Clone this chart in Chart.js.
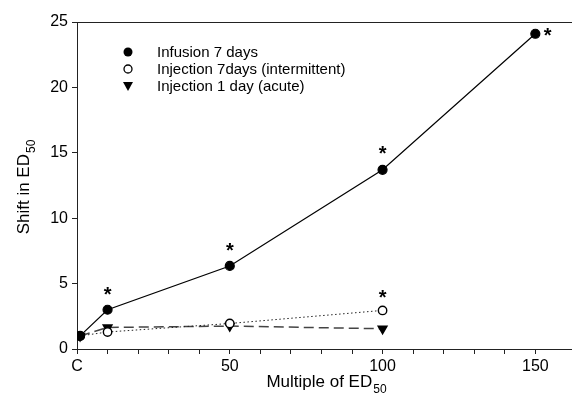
<!DOCTYPE html>
<html>
<head>
<meta charset="utf-8">
<script src="https://cdn.jsdelivr.net/npm/chart.js@4"></script>
<style>
html,body{margin:0;padding:0;background:#fff;}
canvas{display:block;}
</style>
</head>
<body>
<canvas id="c" width="572" height="407"></canvas>
<script>
// data
const doses = [1, 10, 50, 100, 150];
const infusion7 = [1, 3.0, 6.35, 13.7, 24.1];
const injection7 = [1, 1.3, 1.95, 2.95];
const injection1 = [1, 1.65, 1.75, 1.55];
const starX = [10, 50, 100, 154, 100];
const starY = [4.4, 7.8, 15.2, 24.2, 4.2];
const xTickLabels = {0:'C', 50:'50', 100:'100', 150:'150'};
const legendLabels = ['Infusion 7 days', 'Injection 7days (intermittent)', 'Injection 1 day (acute)'];

const FONT = '"Liberation Sans", Arial, sans-serif';

function pts(ys){ return ys.map((y,i)=>({x: doses[i], y: y})); }

// asterisks, top border, legend and axis titles with subscripts
const extras = {
  id: 'extras',
  afterDraw(chart){
    const ctx = chart.ctx, a = chart.chartArea;
    const xs = chart.scales.x, ys = chart.scales.y;
    ctx.save();
    // top frame line
    ctx.strokeStyle = '#222'; ctx.lineWidth = 1;
    ctx.beginPath(); ctx.moveTo(a.left, a.top + 0.5); ctx.lineTo(a.right, a.top + 0.5); ctx.stroke();

    // asterisks
    ctx.fillStyle = '#000';
    ctx.font = 'bold 20px ' + FONT;
    ctx.textAlign = 'center'; ctx.textBaseline = 'alphabetic';
    const m = ctx.measureText('*');
    const off = (m.actualBoundingBoxAscent - m.actualBoundingBoxDescent) / 2;
    starX.forEach((sx, i)=>{
      ctx.fillText('*', xs.getPixelForValue(sx), ys.getPixelForValue(starY[i]) + off);
    });

    // legend
    ctx.font = '15px ' + FONT;
    ctx.textAlign = 'left'; ctx.textBaseline = 'middle';
    const lx = 128, tx = 157, ly = [52, 69, 86];
    legendLabels.forEach((lab, i)=>{
      const y = ly[i];
      ctx.lineWidth = 1.3; ctx.strokeStyle = '#000'; ctx.fillStyle = '#000';
      if(i === 0){ ctx.beginPath(); ctx.arc(lx, y, 4.5, 0, Math.PI*2); ctx.fill(); }
      else if(i === 1){ ctx.beginPath(); ctx.arc(lx, y, 4, 0, Math.PI*2); ctx.fillStyle='#fff'; ctx.fill(); ctx.stroke(); ctx.fillStyle='#000'; }
      else { ctx.beginPath(); ctx.moveTo(lx-5, y-4); ctx.lineTo(lx+5, y-4); ctx.lineTo(lx, y+5); ctx.closePath(); ctx.fill(); }
      ctx.fillText(lab, tx, y + 1);
    });

    // x title
    ctx.textBaseline = 'alphabetic';
    const t1 = 'Multiple of ED';
    ctx.font = '12px ' + FONT;
    const wSub = ctx.measureText('50').width;
    ctx.font = '17px ' + FONT;
    const w1 = ctx.measureText(t1).width;
    let sx0 = 326 - (w1 + wSub) / 2;
    ctx.fillText(t1, sx0, 387);
    ctx.font = '12px ' + FONT;
    ctx.fillText('50', sx0 + w1 + 1, 393);

    // y title (rotated)
    ctx.translate(29, (a.top + a.bottom) / 2 + 2);
    ctx.rotate(-Math.PI / 2);
    ctx.font = '17px ' + FONT;
    const t2 = 'Shift in ED';
    const w2 = ctx.measureText(t2).width;
    const y0 = -(w2 + wSub) / 2;
    ctx.fillText(t2, y0, 0);
    ctx.font = '12px ' + FONT;
    ctx.fillText('50', y0 + w2 + 1, 6);
    ctx.restore();
  }
};

new Chart(document.getElementById('c').getContext('2d'), {
  type: 'line',
  data: {
    datasets: [
      { label: legendLabels[0], data: pts(infusion7), borderColor: '#000', borderWidth: 1.2,
        backgroundColor: '#000', pointBackgroundColor: '#000', pointBorderColor: '#000',
        pointRadius: 4.5, pointStyle: 'circle', tension: 0, order: 1 },
      { label: legendLabels[1], data: pts(injection7), borderColor: '#222', borderWidth: 1,
        borderDash: [1.5, 2.5], pointBackgroundColor: '#fff', pointBorderColor: '#000',
        pointBorderWidth: 1.4, pointRadius: 4.2, pointStyle: 'circle', tension: 0, order: 2 },
      { label: legendLabels[2], data: pts(injection1), borderColor: '#444', borderWidth: 1.5,
        borderDash: [10, 5], pointBackgroundColor: '#000', pointBorderColor: '#000',
        pointRadius: 5, pointStyle: 'triangle', pointRotation: 180, tension: 0, order: 3 }
    ]
  },
  options: {
    responsive: false,
    devicePixelRatio: 1,
    animation: false,
    layout: { autoPadding: false, padding: { top: 22, right: 0, left: 0, bottom: 0 } },
    plugins: { legend: { display: false }, tooltip: { enabled: false } },
    scales: {
      x: {
        type: 'linear', min: 0, max: 162,
        afterFit(s){ s.height = 58; s.paddingRight = 0; s.paddingLeft = 0; },
        afterBuildTicks(s){ s.ticks = s.ticks.filter(t => t.value % 10 === 0); },
        border: { color: '#222', width: 1 },
        grid: { drawOnChartArea: false, drawTicks: true, tickLength: 5, color: '#222' },
        ticks: { stepSize: 10, autoSkip: false, maxRotation: 0, color: '#000', padding: 3,
          font: { family: FONT, size: 16 },
          callback: v => xTickLabels[v] !== undefined ? xTickLabels[v] : '' }
      },
      y: {
        min: 0, max: 25,
        afterFit(s){ s.width = 77; },
        border: { color: '#222', width: 1 },
        grid: { drawOnChartArea: false, drawTicks: true, tickLength: 5, color: '#222' },
        ticks: { stepSize: 5, color: '#000', padding: 4, font: { family: FONT, size: 16 } }
      }
    }
  },
  plugins: [extras]
});
</script>
</body>
</html>
